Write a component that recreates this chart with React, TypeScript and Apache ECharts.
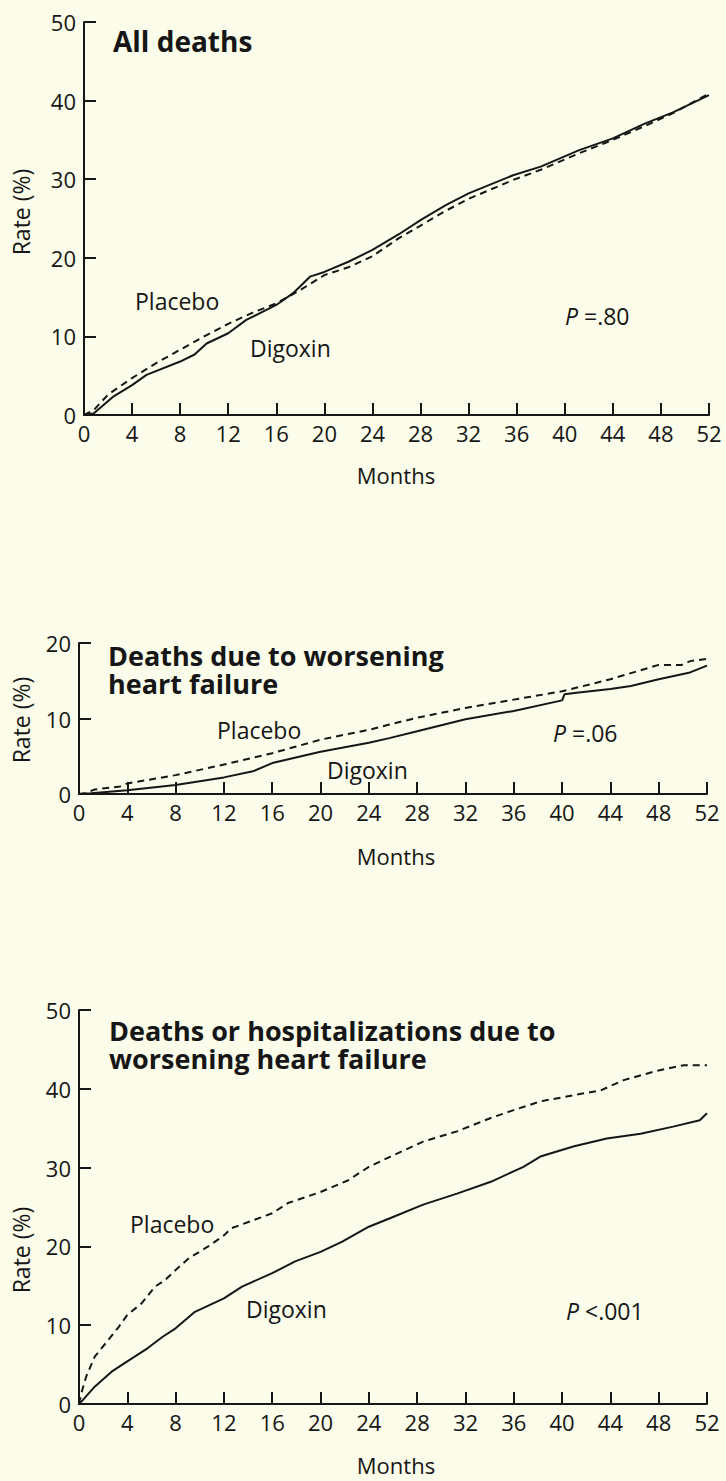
import React, { useEffect, useRef } from "react";
import * as echarts from "echarts";

// ---------- data ----------
const monthTicks = [0, 4, 8, 12, 16, 20, 24, 28, 32, 36, 40, 44, 48, 52];

// Panel 1: All deaths
const allDeathsDigoxinMonths = [0, 0.8, 2.4, 4, 5.2, 8, 9.2, 10.2, 12, 13.5, 16, 17.4, 18.8, 20, 22, 24, 26.2, 28, 30.1, 32, 35.7, 38, 41.2, 44, 46.7, 49, 52];
const allDeathsDigoxinRates = [0, 0.2, 2.3, 3.8, 5.1, 6.8, 7.7, 9.1, 10.4, 12.1, 14.0, 15.5, 17.6, 18.2, 19.5, 21.0, 23.0, 24.8, 26.7, 28.2, 30.5, 31.6, 33.7, 35.2, 37.1, 38.5, 40.7];
const allDeathsPlaceboMonths = [0, 0.8, 2, 4, 6, 8, 10, 12, 14, 16, 18, 20, 22, 24, 26.2, 28, 30, 32, 35.7, 38, 41.2, 44, 46.7, 49, 52];
const allDeathsPlaceboRates = [0, 0.6, 2.6, 4.7, 6.6, 8.3, 10.0, 11.6, 13.0, 14.2, 15.9, 17.8, 18.8, 20.2, 22.5, 24.1, 25.9, 27.5, 29.9, 31.2, 33.3, 35.0, 36.8, 38.4, 40.9];

// Panel 2: Deaths due to worsening heart failure
const hfDeathsDigoxinMonths = [0, 1, 4, 8, 12, 14.4, 16, 20, 24, 25.7, 28, 32, 36, 40, 40.2, 41.2, 44, 45.7, 48, 50.6, 52];
const hfDeathsDigoxinRates = [0, 0.1, 0.5, 1.2, 2.2, 3.0, 4.1, 5.6, 6.8, 7.4, 8.3, 9.9, 11.0, 12.4, 13.2, 13.4, 13.9, 14.3, 15.2, 16.1, 17.0];
const hfDeathsPlaceboMonths = [0, 0.5, 1.3, 3.4, 4, 8, 12, 16, 20, 24, 25.7, 28, 32, 36, 40, 44, 48, 49.9, 50.6, 52];
const hfDeathsPlaceboRates = [0, 0.1, 0.6, 1.0, 1.4, 2.5, 3.9, 5.4, 7.2, 8.5, 9.2, 10.1, 11.4, 12.5, 13.6, 15.2, 17.1, 17.1, 17.6, 17.9];

// Panel 3: Deaths or hospitalizations due to worsening heart failure
const hfCombDigoxinMonths = [0, 0.2, 1.3, 2.7, 4, 5.7, 6.9, 8, 9.6, 12, 13.5, 16, 17.9, 20, 21.8, 24, 25.8, 28.5, 31.3, 34.1, 36.8, 38.2, 41, 43.7, 46.5, 49.2, 51.4, 52];
const hfCombDigoxinRates = [0, 0.3, 2.2, 4.1, 5.4, 7.1, 8.5, 9.6, 11.7, 13.4, 14.9, 16.6, 18.1, 19.3, 20.6, 22.5, 23.6, 25.3, 26.7, 28.2, 30.1, 31.4, 32.7, 33.7, 34.3, 35.2, 36.0, 36.9];
const hfCombPlaceboMonths = [0, 0.2, 0.6, 1.3, 2.2, 3.3, 4, 5.2, 6.3, 7.1, 8, 9.1, 10.7, 12, 12.6, 16, 17.3, 20, 22.3, 24, 25.8, 28.5, 31.3, 34.1, 36, 38.2, 41, 43.2, 45.1, 47.9, 50.1, 52];
const hfCombPlaceboRates = [0, 1.4, 3.5, 6.0, 7.7, 9.8, 11.3, 12.8, 14.9, 15.7, 17.0, 18.5, 20.0, 21.4, 22.3, 24.2, 25.5, 26.9, 28.4, 30.1, 31.4, 33.3, 34.6, 36.3, 37.3, 38.4, 39.2, 39.8, 41.1, 42.3, 43.0, 43.0];

const panelTitles = [["All deaths"], ["Deaths due to worsening", "heart failure"], ["Deaths or hospitalizations due to", "worsening heart failure"]];
const yMax = [50, 20, 50];
const pValues = ["=.80", "=.06", "<.001"];
const groupNames = ["Placebo", "Digoxin"];
const yAxisTitle = "Rate (%)";
const xAxisTitle = "Months";

// ---------- styling ----------
const INK = "#161616";
const BG = "#fbfce9";
const FONT = '"Open Sans", "Noto Sans", sans-serif';

const grids = [
  { left: 84, top: 22, width: 625, height: 393 },
  { left: 79, top: 643, width: 628, height: 151 },
  { left: 79, top: 1010, width: 628, height: 394 },
];

const zip = (xs: number[], ys: number[]) => xs.map((x, i) => [x, ys[i]]);

export default function App() {
  const ref = useRef<HTMLDivElement>(null);
  useEffect(() => {
    document.body.style.margin = "0";
    const chart = echarts.init(ref.current!, null, { renderer: "svg" });

    const xAxes = grids.map((_, i) => ({
      type: "value",
      gridIndex: i,
      min: 0,
      max: 52,
      interval: 4,
      axisLine: { show: true, onZero: false, lineStyle: { color: INK, width: 2 } },
      axisTick: { show: true, inside: true, length: 12, lineStyle: { color: INK, width: 2 } },
      axisLabel: { color: INK, fontSize: 22, fontFamily: FONT, margin: 7, showMinLabel: true, showMaxLabel: true },
      splitLine: { show: false },
    }));
    const yAxes = grids.map((_, i) => ({
      type: "value",
      gridIndex: i,
      min: 0,
      max: yMax[i],
      interval: 10,
      axisLine: { show: true, onZero: false, lineStyle: { color: INK, width: 2 } },
      axisTick: { show: true, inside: true, length: 12, lineStyle: { color: INK, width: 2 } },
      axisLabel: { color: INK, fontSize: 22, fontFamily: FONT, margin: 8 },
      splitLine: { show: false },
    }));

    const seriesData = [
      [zip(allDeathsPlaceboMonths, allDeathsPlaceboRates), zip(allDeathsDigoxinMonths, allDeathsDigoxinRates)],
      [zip(hfDeathsPlaceboMonths, hfDeathsPlaceboRates), zip(hfDeathsDigoxinMonths, hfDeathsDigoxinRates)],
      [zip(hfCombPlaceboMonths, hfCombPlaceboRates), zip(hfCombDigoxinMonths, hfCombDigoxinRates)],
    ];
    const series: any[] = [];
    seriesData.forEach((pair, i) => {
      pair.forEach((d, j) => {
        series.push({
          type: "line",
          name: groupNames[j],
          xAxisIndex: i,
          yAxisIndex: i,
          data: d,
          showSymbol: false,
          symbol: "none",
          lineStyle: { color: INK, width: 2, type: j === 0 ? [7, 5] : "solid" },
          z: 3,
        });
      });
    });

    const txt = (text: string, x: number, y: number, size: number, weight: any = "normal", align = "left", extra: any = {}) => ({
      type: "text",
      x,
      y,
      ...extra,
      style: { text, fill: INK, font: `${weight} ${size}px ${FONT}`, align, verticalAlign: "middle" },
    });
    const ptxt = (val: string, x: number, y: number) => ({
      type: "text",
      x,
      y,
      style: {
        text: `{i|P} ${val}`,
        fill: INK,
        font: `normal 23px ${FONT}`,
        align: "left",
        verticalAlign: "middle",
        rich: { i: { fontStyle: "italic", fontSize: 23, fontFamily: FONT, fill: INK } },
      },
    });

    const titleLineY = [[41], [655, 683], [1030, 1058]];
    const titleX = [113, 108, 109];
    const graphics: any[] = [];
    panelTitles.forEach((lines, i) =>
      lines.forEach((l, k) => graphics.push(txt(l, titleX[i], titleLineY[i][k], i === 0 ? 28 : 27, "bold")))
    );
    // Axis titles
    const rateY = [212, 720, 1250];
    const monthsY = [475, 856, 1465];
    rateY.forEach((y) => graphics.push(txt(yAxisTitle, 21, y, 23, "normal", "center", { rotation: Math.PI / 2 })));
    monthsY.forEach((y) => graphics.push(txt(xAxisTitle, 396, y, 22, "normal", "center")));
    // Annotations
    graphics.push(txt(groupNames[0], 135, 301, 23));
    graphics.push(txt(groupNames[1], 250, 348, 23));
    graphics.push(ptxt(pValues[0], 565, 316));
    graphics.push(txt(groupNames[0], 217, 730, 23));
    graphics.push(txt(groupNames[1], 327, 770, 23));
    graphics.push(ptxt(pValues[1], 553, 733));
    graphics.push(txt(groupNames[0], 130, 1224, 23));
    graphics.push(txt(groupNames[1], 246, 1309, 23));
    graphics.push(ptxt(pValues[2], 566, 1311));

    chart.setOption({
      animation: false,
      backgroundColor: BG,
      grid: grids.map((g) => ({ ...g, containLabel: false })),
      xAxis: xAxes,
      yAxis: yAxes,
      series,
      graphic: graphics,
    });
    return () => chart.dispose();
  }, []);
  return (
    <div
      ref={ref}
      style={{ position: "absolute", left: 0, top: 0, width: 726, height: 1481, background: BG }}
    />
  );
}
